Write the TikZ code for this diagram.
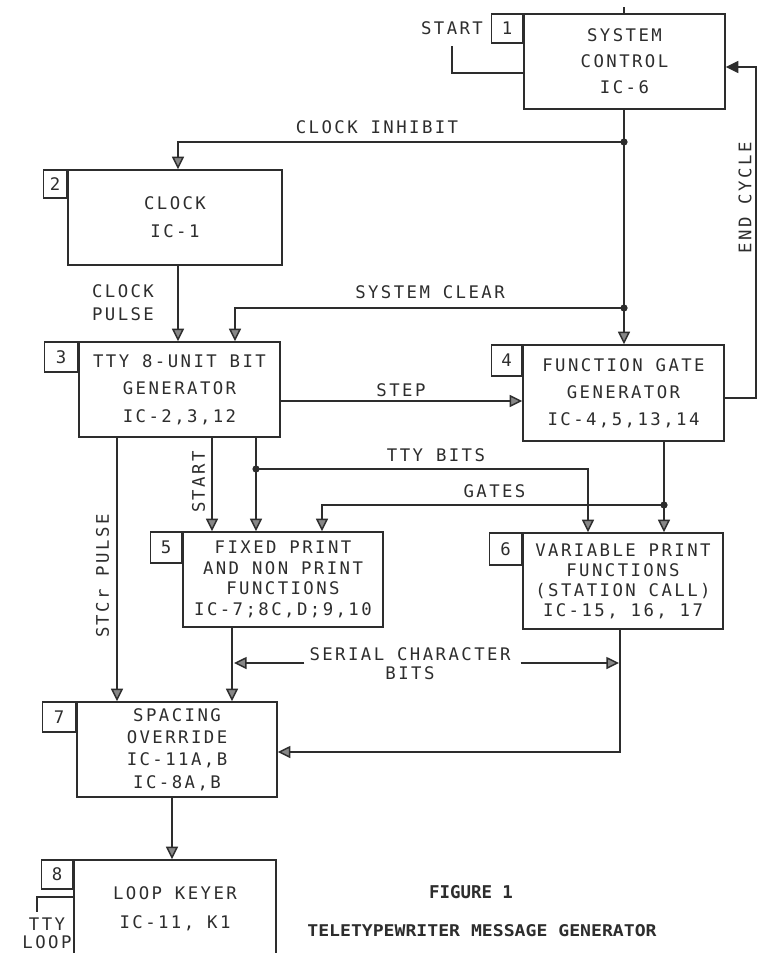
\documentclass[tikz,border=0pt]{standalone}
\usepackage{fontspec}
\usepackage{graphicx}
\usetikzlibrary{arrows.meta}
\newfontfamily\lblfont{DejaVu Sans Mono}[LetterSpace=14]
\newfontfamily\capfont{DejaVu Sans Mono}
\definecolor{ink}{RGB}{45,45,45}
\definecolor{tipfill}{RGB}{135,135,135}
\newcommand\pxu{0.75pt}
\begin{document}
\begin{tikzpicture}[x=0.75pt, y=-0.75pt,
  wire/.style={draw=ink, line width=1.1pt},
  arr/.style={wire, -{Triangle[length=9.5pt,width=9pt,fill=tipfill]}},
  solidarr/.style={wire, -{Triangle[length=9.5pt,width=9pt,fill=ink]}},
  lbl/.style={text=ink, inner sep=0pt, align=center, font=\lblfont\fontsize{13pt}{#1}\selectfont},
  lbl/.default=16pt,
  box/.style={draw=ink, line width=1.1pt, inner sep=0pt, align=center, text=ink},
  numbox/.style={box, lbl, anchor=north east},
  dot/.style={fill=ink}]
\clip (0,0) rectangle (758,953);
\fill[white] (0,0) rectangle (758,953);

% ---------- boxes ----------
\node[box, lbl=19.5pt, minimum width=201*\pxu, minimum height=95*\pxu] (b1) at (624.5,61.5) {SYSTEM\\CONTROL\\IC-6};
\node[numbox, minimum width=31*\pxu, minimum height=29*\pxu] (n1) at (b1.north west) {1};

\node[box, lbl=21pt, minimum width=214*\pxu, minimum height=95*\pxu] (b2) at (175,217.5) {CLOCK\\IC-1};
\node[numbox, minimum width=23*\pxu, minimum height=28*\pxu] (n2) at (b2.north west) {2};

\node[box, lbl=20.6pt, minimum width=201*\pxu, minimum height=95*\pxu] (b3) at (179.5,389.5) {TTY 8-UNIT BIT\\GENERATOR\\IC-2,3,12};
\node[numbox, minimum width=33*\pxu, minimum height=30*\pxu] (n3) at (b3.north west) {3};

\node[box, lbl=20.3pt, minimum width=201*\pxu, minimum height=96*\pxu] (b4) at (623.5,393) {FUNCTION GATE\\GENERATOR\\IC-4,5,13,14};
\node[numbox, minimum width=30*\pxu, minimum height=31*\pxu] (n4) at (b4.north west) {4};

\node[box, lbl=15.5pt, minimum width=200*\pxu, minimum height=95*\pxu] (b5) at (283,579.5) {FIXED PRINT\\AND NON PRINT\\FUNCTIONS\\IC-7;8C,D;9,10};
\node[numbox, minimum width=31*\pxu, minimum height=31*\pxu] (n5) at (b5.north west) {5};

\node[box, lbl=15pt, minimum width=200*\pxu, minimum height=96*\pxu] (b6) at (623,581) {VARIABLE PRINT\\FUNCTIONS\\(STATION CALL)\\IC-15, 16, 17};
\node[numbox, minimum width=32*\pxu, minimum height=32*\pxu] (n6) at (b6.north west) {6};

\node[box, lbl=16.7pt, minimum width=200*\pxu, minimum height=95*\pxu] (b7) at (177,749.5) {SPACING\\OVERRIDE\\IC-11A,B\\IC-8A,B};
\node[numbox, minimum width=33*\pxu, minimum height=30*\pxu] (n7) at (b7.north west) {7};

\node[box, lbl=21.75pt, minimum width=202*\pxu, minimum height=97*\pxu] (b8) at (175,908.5) {LOOP KEYER\\IC-11, K1};
\node[numbox, minimum width=31*\pxu, minimum height=29*\pxu] (n8) at (b8.north west) {8};

% ---------- labels ----------
\node[lbl] (lstart) at (452,28) {START};
\node[lbl] (lci) at (377,127) {CLOCK INHIBIT};
\node[lbl=17pt] (lcp) at (123,302.5) {CLOCK\\PULSE};
\node[lbl] (lsc) at (430,292) {SYSTEM CLEAR};
\node[lbl] (lstep) at (401,390) {STEP};
\node[lbl, rotate=90] (lec) at (745,198) {END CYCLE};
\node[lbl] (ltty) at (436,455) {TTY BITS};
\node[lbl] (lgates) at (494.5,491.5) {GATES};
\node[lbl, rotate=90] (lstart2) at (198.5,482) {START};
\node[lbl, rotate=90] (lstcr) at (102.5,576) {STCr PULSE};
\node[lbl=14.3pt] (lser) at (410,663.5) {SERIAL CHARACTER\\BITS};
\node[lbl=13.5pt] (lloop) at (47,933.5) {TTY\\LOOP};
\node[text=ink, inner sep=0pt] (lfig) at (471,892) {\resizebox{63pt}{9.8pt}{\capfont\bfseries FIGURE 1}};
\node[text=ink, inner sep=0pt] (lcap) at (482,931) {\resizebox{262pt}{9pt}{\capfont\bfseries TELETYPEWRITER MESSAGE GENERATOR}};

% ---------- junctions ----------
\coordinate (j1) at (624,142);
\coordinate (j2) at (624,308);
\coordinate (j3) at (256,469);
\coordinate (j4) at (664,505);
\coordinate (st) at (452,46);
\coordinate (tl) at (37,912);
\coordinate (ecr) at (756,0);
\coordinate (sl) at (234,663);
\coordinate (sr) at (619,663);

% ---------- connectors ----------
\draw[wire] (st) |- (b1.west |- 0,73);
\draw[wire] (b1.north -| j1) -- ++(0,-6);
\draw[wire] (b1.south -| j1) -- (j1) -- (j2);
\draw[arr] (j2) -- (b4.north -| j2);
\draw[arr] (j1) -| (b2.north -| 178,0);
\draw[arr] (j2) -| (b3.north -| 235,0);
\draw[arr] (b2.south -| 178,0) -- (b3.north -| 178,0);
\draw[arr] (b3.east |- 0,401) -- (b4.west |- 0,401);
\draw[solidarr] (b4.east |- 0,398) -| (ecr |- 0,67) -- (b1.east |- 0,67);

\draw[arr] (b3.south -| 117,0) -- (b7.north -| 117,0);
\draw[arr] (b3.south -| 212,0) -- (b5.north -| 212,0);
\draw[wire] (b3.south -| j3) -- (j3);
\draw[arr] (j3) -- (b5.north -| j3);
\draw[arr] (j3) -| (b6.north -| 588,0);

\draw[wire] (b4.south -| j4) -- (j4);
\draw[arr] (j4) -- (b6.north -| j4);
\draw[arr] (j4) -| (b5.north -| 322,0);

\draw[arr] (b5.south -| 232,0) -- (b7.north -| 232,0);
\draw[arr] (b6.south -| 620,0) |- (b7.east |- 0,752);
\draw[arr] (lser.west |- sl) ++(-5,0) -- (sl);
\draw[arr] (lser.east |- sr) ++(10,0) -- (sr);

\draw[arr] (b7.south -| 172,0) -- (b8.north -| 172,0);
\draw[wire] (b8.west |- 0,897) -| (tl);

\foreach \j in {j1,j2,j3,j4} \fill[dot] (\j) circle (2.7pt);
\end{tikzpicture}
\end{document}
